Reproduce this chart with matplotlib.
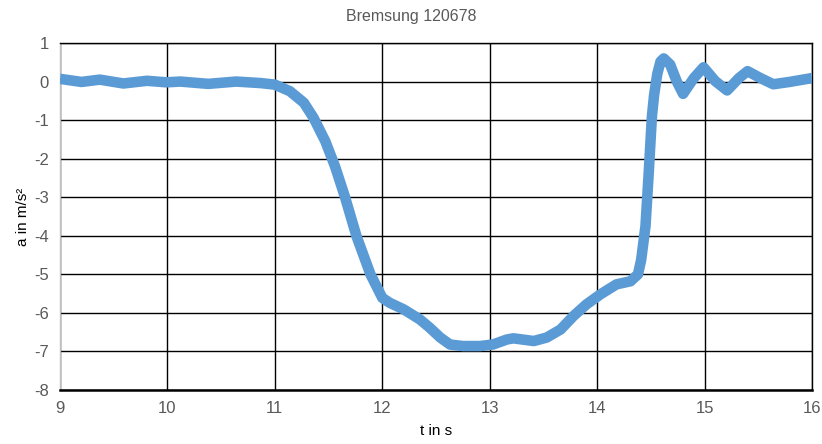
import matplotlib.pyplot as plt

# Bremsung 120678 - Beschleunigung über Zeit
t = [9.0, 9.20, 9.37, 9.59, 9.81, 9.99, 10.12, 10.38, 10.64, 10.87, 11.0,
     11.14, 11.27, 11.36, 11.47, 11.56, 11.65, 11.76, 11.89, 12.0, 12.07,
     12.20, 12.35, 12.44, 12.54, 12.63, 12.75, 12.91, 13.03, 13.16, 13.22,
     13.41, 13.53, 13.66, 13.78, 13.90, 14.03, 14.18, 14.31, 14.38, 14.41,
     14.45, 14.48, 14.51, 14.53, 14.56, 14.59, 14.62, 14.68, 14.74, 14.80,
     14.90, 14.99, 15.10, 15.21, 15.32, 15.40, 15.52, 15.64, 15.79, 16.0]
a = [0.07, -0.01, 0.05, -0.05, 0.02, -0.02, 0.0, -0.06, 0.0, -0.04, -0.08,
     -0.25, -0.55, -0.94, -1.55, -2.2, -2.97, -4.01, -5.0, -5.61, -5.74,
     -5.91, -6.17, -6.38, -6.64, -6.82, -6.86, -6.86, -6.82, -6.69, -6.66,
     -6.73, -6.64, -6.43, -6.08, -5.78, -5.52, -5.26, -5.18, -5.0, -4.62,
     -3.75, -2.37, -0.90, -0.35, 0.2, 0.52, 0.60, 0.44, 0.01, -0.32,
     0.09, 0.37, 0.01, -0.23, 0.09, 0.27, 0.09, -0.07, -0.01, 0.09]

x_ticks = [9, 10, 11, 12, 13, 14, 15, 16]
y_ticks = [1, 0, -1, -2, -3, -4, -5, -6, -7, -8]

plt.rcParams['font.family'] = ['Liberation Sans', 'DejaVu Sans']
plt.rcParams['axes.unicode_minus'] = False

fig = plt.figure(figsize=(8.22, 4.44), dpi=100)
ax = fig.add_axes([60 / 822, 54 / 444, 752 / 822, 347 / 444])

ax.plot(t, a, color='#5B9BD5', lw=7.6, solid_joinstyle='round',
        solid_capstyle='butt', zorder=3)

ax.set_xlim(9, 16)
ax.set_ylim(-8, 1)
ax.set_xticks(x_ticks)
ax.set_yticks(y_ticks)
ax.grid(True, color='black', lw=1.0)
ax.set_axisbelow(True)
ax.tick_params(length=0, labelsize=12, colors='#595959', pad=8)

ax.spines['left'].set_color('#BFBFBF')
ax.spines['left'].set_linewidth(1.0)
ax.spines['bottom'].set_color('black')
ax.spines['bottom'].set_linewidth(1.8)
ax.spines['right'].set_color('black')
ax.spines['right'].set_linewidth(1.0)
ax.spines['top'].set_color('black')
ax.spines['top'].set_linewidth(1.0)

ax.set_xlabel('t in s', fontsize=11, color='black', labelpad=6)
ax.set_ylabel('a in m/s²', fontsize=11, color='black', labelpad=3)
fig.text(0.5, 1 - 17 / 444, 'Bremsung 120678', ha='center', va='center',
         fontsize=11.5, color='#595959')

fig.savefig('out.png', dpi=100)
